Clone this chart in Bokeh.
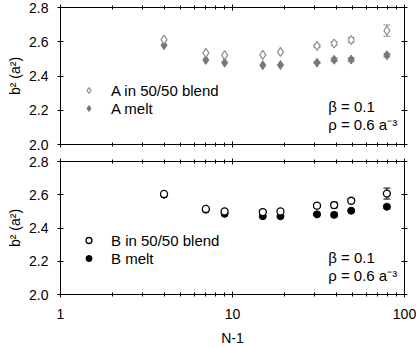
import numpy as np
from bokeh.plotting import figure
from bokeh.models import (ColumnDataSource, Range1d, FixedTicker, PrintfTickFormatter,
                          LogAxis, LinearAxis, Whisker, TeeHead, Legend, LegendItem, Label)
from bokeh.layouts import column
from bokeh.embed import file_html
from bokeh.resources import INLINE

# ---------------- data ----------------
n_minus_1 = [4, 7, 9, 15, 19, 31, 39, 49, 79]

a_blend = [2.612, 2.535, 2.522, 2.523, 2.541, 2.576, 2.590, 2.610, 2.665]
a_blend_err = [0, 0, 0, 0, 0, 0.008, 0.012, 0.015, 0.033]
a_melt = [2.580, 2.494, 2.478, 2.463, 2.464, 2.478, 2.495, 2.496, 2.521]
a_melt_err = [0, 0, 0, 0, 0, 0.005, 0.010, 0.010, 0.010]

b_blend = [2.605, 2.515, 2.500, 2.496, 2.500, 2.534, 2.538, 2.564, 2.607]
b_blend_err = [0, 0, 0, 0, 0, 0.010, 0.017, 0.012, 0.033]
b_melt = [2.600, 2.510, 2.485, 2.471, 2.471, 2.482, 2.479, 2.504, 2.528]
b_melt_err = [0, 0, 0, 0, 0, 0.006, 0.012, 0.005, 0.010]

x_major_ticks = [1, 10, 100]
x_minor_ticks = [2, 3, 4, 5, 6, 7, 8, 9, 20, 30, 40, 50, 60, 70, 80, 90]
y_ticks = [2.0, 2.2, 2.4, 2.6, 2.8]

x_label = "N-1"
y_label = "b\u00b2 (a\u00b2)"
beta_text = "\u03b2 = 0.1"
rho_text = "\u03c1 = 0.6 a\u207b\u00b3"

# ---------------- style ----------------
FONT = "Liberation Sans"
W = 416
FRAME_H = 137


def style_axis(ax, ticker, fmt, show_labels, minor=True):
    ax.ticker = ticker
    ax.formatter = fmt
    ax.axis_line_color = "black"
    ax.major_tick_line_color = "black"
    ax.major_tick_out = 3
    ax.major_tick_in = 3
    if minor:
        ax.minor_tick_line_color = "black"
        ax.minor_tick_out = 2
        ax.minor_tick_in = 2
    else:
        ax.minor_tick_line_color = None
    ax.major_label_text_font = FONT
    ax.axis_label_text_font = FONT
    ax.axis_label_text_font_style = "normal"
    ax.axis_label_text_color = "black"
    ax.axis_label_text_font_size = "14px"
    if show_labels:
        ax.major_label_text_font_size = "14px"
        ax.major_label_text_color = "black"
    else:
        ax.major_label_text_font_size = "1px"
        ax.major_label_text_color = None
        ax.major_label_standoff = 0


def make_panel(height, b_top, b_bottom, show_x):
    p = figure(width=W, height=height, x_axis_type="log",
               x_range=Range1d(1, 100), y_range=Range1d(2.0, 2.8),
               output_backend="svg", toolbar_location=None,
               min_border_left=60, min_border_right=12,
               min_border_top=b_top, min_border_bottom=b_bottom)
    p.grid.visible = False
    p.outline_line_color = "black"
    p.background_fill_color = "white"
    p.border_fill_color = "white"
    p.add_layout(LogAxis(), "above")
    p.add_layout(LinearAxis(), "right")
    xt = FixedTicker(ticks=x_major_ticks, minor_ticks=x_minor_ticks)
    yt = FixedTicker(ticks=y_ticks, minor_ticks=[])
    xf = PrintfTickFormatter(format="%d")
    yf = PrintfTickFormatter(format="%.1f")
    for ax in p.below:
        style_axis(ax, xt, xf, show_x)
        if show_x:
            ax.axis_label = x_label
            ax.major_label_standoff = 11
            ax.axis_label_standoff = 8
    for ax in p.above:
        style_axis(ax, xt, xf, False)
    for ax in p.left:
        style_axis(ax, yt, yf, True, minor=False)
        ax.axis_label = y_label
        ax.major_label_standoff = 9
        ax.axis_label_standoff = 3
    for ax in p.right:
        style_axis(ax, yt, yf, False, minor=False)
    return p


def add_whiskers(p, xs, ys, errs, color):
    idx = [i for i, e in enumerate(errs) if e > 0]
    src = ColumnDataSource(dict(
        x=[xs[i] for i in idx],
        lower=[ys[i] - errs[i] for i in idx],
        upper=[ys[i] + errs[i] for i in idx]))
    w = Whisker(source=src, base="x", lower="lower", upper="upper",
                line_color=color, line_width=1,
                lower_head=TeeHead(size=7, line_color=color, line_width=1),
                upper_head=TeeHead(size=7, line_color=color, line_width=1))
    p.add_layout(w)


def add_legend_and_notes(p, items):
    leg = Legend(items=items, location=(21, 27), orientation="vertical",
                 glyph_width=15, glyph_height=18, label_height=18, spacing=0,
                 padding=0, margin=0, label_standoff=15,
                 label_text_font=FONT, label_text_font_size="15px",
                 label_text_color="black",
                 border_line_color=None, background_fill_alpha=0)
    p.add_layout(leg)
    p.add_layout(Label(x=36, y=2.22, text=beta_text, text_font=FONT,
                       text_font_size="15px", text_baseline="middle",
                       text_align="left", text_color="black"))
    p.add_layout(Label(x=36, y=2.115, text=rho_text, text_font=FONT,
                       text_font_size="15px", text_baseline="middle",
                       text_align="left", text_color="black"))


# ---------------- top panel (A) ----------------
top = make_panel(7 + FRAME_H + 8, 7, 8, False)
grey_open = "#8f8f8f"
grey_fill = "#777777"
add_whiskers(top, n_minus_1, a_melt, a_melt_err, grey_fill)
add_whiskers(top, n_minus_1, a_blend, a_blend_err, grey_open)
r_am = top.scatter(n_minus_1, a_melt, marker="diamond", size=9,
                   fill_color=grey_fill, line_color=grey_fill, line_width=1)
r_ab = top.scatter(n_minus_1, a_blend, marker="diamond", size=9,
                   fill_color="white", line_color=grey_open, line_width=1.2)
add_legend_and_notes(top, [LegendItem(label="A in 50/50 blend", renderers=[r_ab]),
                           LegendItem(label="A melt", renderers=[r_am])])

# ---------------- bottom panel (B) ----------------
bot = make_panel(9 + FRAME_H + 50, 9, 50, True)
add_whiskers(bot, n_minus_1, b_melt, b_melt_err, "black")
add_whiskers(bot, n_minus_1, b_blend, b_blend_err, "black")
r_bm = bot.scatter(n_minus_1, b_melt, marker="circle", size=7,
                   fill_color="black", line_color="black", line_width=1)
r_bb = bot.scatter(n_minus_1, b_blend, marker="circle", size=7,
                   fill_color="white", line_color="black", line_width=1.3)
add_legend_and_notes(bot, [LegendItem(label="B in 50/50 blend", renderers=[r_bb]),
                           LegendItem(label="B melt", renderers=[r_bm])])

layout = column(top, bot, spacing=0)
open("out.html", "w").write(file_html(layout, INLINE))
